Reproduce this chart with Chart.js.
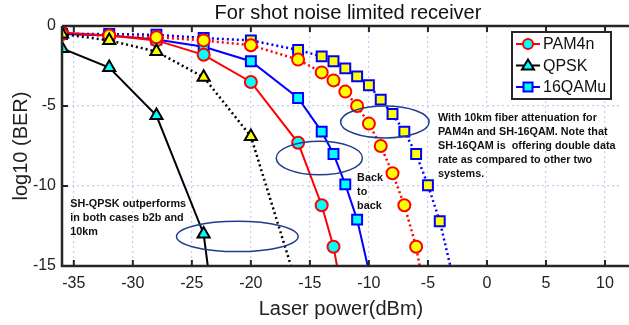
<!DOCTYPE html>
<html>
<head>
<meta charset="utf-8">
<script src="https://cdn.jsdelivr.net/npm/chart.js@4.4.0/dist/chart.umd.min.js"></script>
<style>
  body { margin: 0; background: #fff; }
  #wrap { width: 629px; height: 325px; }
</style>
</head>
<body>
<div id="wrap"><canvas id="my-chart" width="629" height="325"></canvas></div>
<script>
// tick labels
const xTicks = [-35, -30, -25, -20, -15, -10, -5, 0, 5, 10];
const yTicks = [0, -5, -10, -15];

// back to back (solid)
const pam4nB2bX = [-36, -32, -28, -24, -20, -16, -14, -13, -12.7];
const pam4nB2bY = [-0.4, -0.6, -0.9, -1.8, -3.5, -7.3, -11.2, -13.8, -15];
const qpskB2bX = [-36, -32, -28, -24, -23.65];
const qpskB2bY = [-1.4, -2.6, -5.6, -13.0, -15];
const qamB2bX = [-36, -32, -28, -24, -20, -16, -14, -13, -12, -11, -10.1];
const qamB2bY = [-0.5, -0.6, -0.85, -1.3, -2.2, -4.5, -6.6, -8.0, -9.9, -12.1, -15];

// 10 km fiber (dotted)
const pam4n10X = [-36, -32, -28, -24, -20, -16, -14, -13, -12, -11, -10, -9, -8, -7, -6, -5.7];
const pam4n10Y = [-0.5, -0.6, -0.7, -0.9, -1.2, -2.1, -2.9, -3.4, -4.1, -5.0, -6.1, -7.5, -9.2, -11.2, -13.8, -15];
const qpsk10X = [-36, -32, -28, -24, -20, -16.6];
const qpsk10Y = [-0.5, -0.9, -1.6, -3.2, -6.9, -15];
const qam10X = [-36, -32, -28, -24, -20, -16, -14, -13, -12, -11, -10, -9, -8, -7, -6, -5, -4, -3.1];
const qam10Y = [-0.5, -0.5, -0.55, -0.75, -0.9, -1.5, -1.9, -2.2, -2.65, -3.15, -3.7, -4.6, -5.5, -6.6, -8.0, -9.95, -12.2, -15];

const FONT = "'Liberation Sans', Arial, sans-serif";

const toPoints = (xs, ys) => xs.map((x, i) => ({ x: x, y: ys[i] }));
// last point is only where the curve leaves the axes, no marker there
const radii = (xs, r) => xs.map((x, i) => (i === xs.length - 1 ? 0 : r));

const makeSet = (label, xs, ys, color, style, r, fill, edge, dotted) => ({
  label: label,
  data: toPoints(xs, ys),
  showLine: true,
  borderColor: color,
  borderWidth: dotted ? 2.5 : 2,
  borderDash: dotted ? [2, 3] : [],
  pointStyle: style,
  pointRadius: radii(xs, r),
  pointHoverRadius: radii(xs, r),
  pointBackgroundColor: fill,
  pointBorderColor: edge,
  pointBorderWidth: 2,
});

const datasets = [
  makeSet("QPSK 10km", qpsk10X, qpsk10Y, "#000", "triangle", 7, "#ffff00", "#000", true),
  makeSet("PAM4n 10km", pam4n10X, pam4n10Y, "#ff0000", "circle", 6, "#ffff00", "#ff0000", true),
  makeSet("16QAMu 10km", qam10X, qam10Y, "#0000ff", "rect", 7, "#ffff00", "#0000ff", true),
  makeSet("QPSK", qpskB2bX, qpskB2bY, "#000", "triangle", 7, "#00ffff", "#000", false),
  makeSet("PAM4n", pam4nB2bX, pam4nB2bY, "#ff0000", "circle", 6, "#00ffff", "#ff0000", false),
  makeSet("16QAMu", qamB2bX, qamB2bY, "#0000ff", "rect", 7, "#00ffff", "#0000ff", false),
];

const ellipses = [
  { cx: -21.15, cy: -13.15, rx: 5.15, ry: 0.95 },
  { cx: -14.2, cy: -8.25, rx: 3.65, ry: 1.05 },
  { cx: -8.65, cy: -6.0, rx: 3.75, ry: 1.0 },
];

const notes = [
  { x: -4.15, y: -5.75, lines: ["With 10km fiber attenuation for", "PAM4n and SH-16QAM. Note that", "SH-16QAM is  offering double data", "rate as compared to other two", "systems."] },
  { x: -11.0, y: -9.5, lines: ["Back", "to", "back"] },
  { x: -35.3, y: -11.1, lines: ["SH-QPSK outperforms", "in both cases b2b and", "10km"] },
];

const noPad = (s) => {
  s.paddingLeft = 0;
  s.paddingRight = 0;
  s.paddingTop = 0;
  s.paddingBottom = 0;
};

const decor = {
  id: "decor",
  afterDatasetsDraw(chart) {
    const ctx = chart.ctx;
    const xs = chart.scales.x;
    const ys = chart.scales.y;
    const a = chart.chartArea;
    ctx.save();

    // title, centred like the original axes box
    ctx.fillStyle = "#111";
    ctx.font = "20px " + FONT;
    ctx.textAlign = "center";
    ctx.textBaseline = "middle";
    ctx.fillText("For shot noise limited receiver", 348, 13);

    // ellipses
    ctx.strokeStyle = "#1f3c8f";
    ctx.lineWidth = 1.5;
    ellipses.forEach((e) => {
      const cx = xs.getPixelForValue(e.cx);
      const cy = ys.getPixelForValue(e.cy);
      const rx = Math.abs(xs.getPixelForValue(e.cx + e.rx) - cx);
      const ry = Math.abs(ys.getPixelForValue(e.cy + e.ry) - cy);
      ctx.beginPath();
      ctx.ellipse(cx, cy, rx, ry, 0, 0, Math.PI * 2);
      ctx.stroke();
    });

    // notes
    ctx.fillStyle = "#111";
    ctx.font = "bold 10.8px " + FONT;
    ctx.textAlign = "left";
    notes.forEach((n) => {
      const px = xs.getPixelForValue(n.x);
      const py = ys.getPixelForValue(n.y);
      n.lines.forEach((t, i) => ctx.fillText(t, px, py + i * 14));
    });

    // axes box with inward ticks
    ctx.strokeStyle = "#262626";
    ctx.lineWidth = 2.5;
    ctx.beginPath();
    ctx.moveTo(a.left, a.top);
    ctx.lineTo(a.left, a.bottom);
    ctx.lineTo(chart.width, a.bottom);
    ctx.moveTo(a.left, a.top);
    ctx.lineTo(chart.width, a.top);
    ctx.stroke();
    ctx.lineWidth = 2;
    ctx.beginPath();
    xTicks.forEach((v) => {
      const p = xs.getPixelForValue(v);
      ctx.moveTo(p, a.bottom);
      ctx.lineTo(p, a.bottom - 6);
      ctx.moveTo(p, a.top);
      ctx.lineTo(p, a.top + 6);
    });
    yTicks.forEach((v) => {
      const p = ys.getPixelForValue(v);
      ctx.moveTo(a.left, p);
      ctx.lineTo(a.left + 6, p);
    });
    ctx.stroke();

    // legend
    const lx = 512, ly = 32, lw = 99, lh = 67;
    ctx.fillStyle = "#fff";
    ctx.fillRect(lx, ly, lw, lh);
    ctx.strokeStyle = "#262626";
    ctx.lineWidth = 2;
    ctx.strokeRect(lx, ly, lw, lh);
    const items = [datasets[4], datasets[3], datasets[5]];
    items.forEach((d, i) => {
      const y = 44 + i * 21.5;
      ctx.strokeStyle = d.borderColor;
      ctx.lineWidth = 2;
      ctx.beginPath();
      ctx.moveTo(516, y);
      ctx.lineTo(540, y);
      ctx.stroke();
      ctx.fillStyle = d.pointBackgroundColor;
      ctx.strokeStyle = d.pointBorderColor;
      ctx.beginPath();
      if (d.pointStyle === "circle") {
        ctx.arc(528, y, 5, 0, Math.PI * 2);
      } else if (d.pointStyle === "rect") {
        ctx.rect(523.5, y - 4.5, 9, 9);
      } else {
        ctx.moveTo(528, y - 6);
        ctx.lineTo(534, y + 4);
        ctx.lineTo(522, y + 4);
        ctx.closePath();
      }
      ctx.fill();
      ctx.stroke();
      ctx.fillStyle = "#111";
      ctx.font = "16px " + FONT;
      ctx.textAlign = "left";
      ctx.fillText(d.label, 543, y + 1);
    });
    ctx.restore();
  },
};

const ctx = document.getElementById("my-chart").getContext("2d");
const chart = new Chart(ctx, {
  type: "scatter",
  data: { datasets: datasets },
  options: {
    responsive: false,
    animation: false,
    layout: { padding: { top: 26, left: 0, right: 0, bottom: 0 } },
    plugins: {
      legend: { display: false },
      tooltip: { enabled: false },
    },
    scales: {
      x: {
        type: "linear",
        min: -36,
        max: 11.27,
        afterFit: (s) => { noPad(s); s.height = 59; },
        afterBuildTicks: (s) => { s.ticks = xTicks.map((v) => ({ value: v })); },
        grid: { color: "#c9c9f5", lineWidth: 1.2, drawTicks: false },
        border: { display: false, dash: [2, 3] },
        ticks: { color: "#222", font: { family: FONT, size: 16 }, padding: 8 },
        title: { display: true, text: "Laser power(dBm)", color: "#222", font: { family: FONT, size: 20 }, padding: { top: 0, bottom: 4 } },
      },
      y: {
        type: "linear",
        min: -15,
        max: 0,
        afterFit: (s) => { noPad(s); s.width = 62; },
        afterBuildTicks: (s) => { s.ticks = yTicks.map((v) => ({ value: v })); },
        grid: { color: "#c9c9f5", lineWidth: 1.2, drawTicks: false },
        border: { display: false, dash: [2, 3] },
        ticks: { color: "#222", font: { family: FONT, size: 16 }, padding: 6 },
        title: { display: true, text: "log10 (BER)", color: "#222", font: { family: FONT, size: 20 }, padding: { top: 9, bottom: 0 } },
      },
    },
  },
  plugins: [decor],
});
</script>
</body>
</html>
